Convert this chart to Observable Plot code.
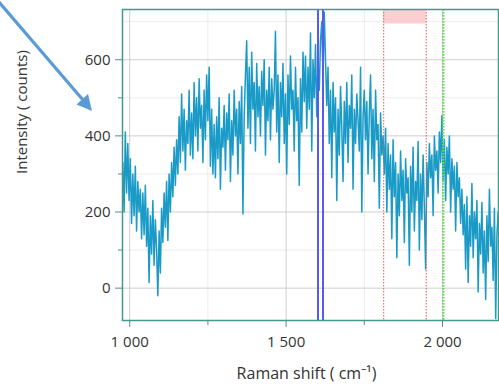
<!DOCTYPE html>
<html>
<head>
<meta charset="utf-8">
<script src="https://cdn.jsdelivr.net/npm/d3@7"></script>
<script src="https://cdn.jsdelivr.net/npm/@observablehq/plot@0.6"></script>
<style>
  html, body { margin: 0; padding: 0; background: #fff; }
  #chart { position: relative; width: 499px; height: 391px; overflow: hidden; font-family: "Open Sans", sans-serif; }
  #pointer { position: absolute; left: 0; top: 0; pointer-events: none; }
</style>
</head>
<body>
<div id="chart"></div>
<script>
// Raman shift (cm⁻¹) of each recorded sample
const shift = [
  978, 982, 986, 990, 994, 998, 1002, 1006, 1010, 1014,
  1018, 1022, 1026, 1030, 1034, 1038, 1042, 1046, 1050, 1054,
  1058, 1062, 1066, 1070, 1074, 1078, 1082, 1086, 1090, 1094,
  1098, 1102, 1106, 1110, 1114, 1118, 1122, 1126, 1130, 1134,
  1138, 1142, 1146, 1150, 1154, 1158, 1162, 1166, 1170, 1174,
  1178, 1182, 1186, 1190, 1194, 1198, 1202, 1206, 1210, 1214,
  1218, 1222, 1226, 1230, 1234, 1238, 1242, 1246, 1250, 1254,
  1258, 1262, 1266, 1270, 1274, 1278, 1282, 1286, 1290, 1294,
  1298, 1302, 1306, 1310, 1314, 1318, 1322, 1326, 1330, 1334,
  1338, 1342, 1346, 1350, 1354, 1358, 1362, 1366, 1370, 1374,
  1378, 1382, 1386, 1390, 1394, 1398, 1402, 1406, 1410, 1414,
  1418, 1422, 1426, 1430, 1434, 1438, 1442, 1446, 1450, 1454,
  1458, 1462, 1466, 1470, 1474, 1478, 1482, 1486, 1490, 1494,
  1498, 1502, 1506, 1510, 1514, 1518, 1522, 1526, 1530, 1534,
  1538, 1542, 1546, 1550, 1554, 1558, 1562, 1566, 1570, 1574,
  1578, 1582, 1586, 1590, 1594, 1598, 1602, 1606, 1610, 1614,
  1618, 1622, 1626, 1630, 1634, 1638, 1642, 1646, 1650, 1654,
  1658, 1662, 1666, 1670, 1674, 1678, 1682, 1686, 1690, 1694,
  1698, 1702, 1706, 1710, 1714, 1718, 1722, 1726, 1730, 1734,
  1738, 1742, 1746, 1750, 1754, 1758, 1762, 1766, 1770, 1774,
  1778, 1782, 1786, 1790, 1794, 1798, 1802, 1806, 1810, 1814,
  1818, 1822, 1826, 1830, 1834, 1838, 1842, 1846, 1850, 1854,
  1858, 1862, 1866, 1870, 1874, 1878, 1882, 1886, 1890, 1894,
  1898, 1902, 1906, 1910, 1914, 1918, 1922, 1926, 1930, 1934,
  1938, 1942, 1946, 1950, 1954, 1958, 1962, 1966, 1970, 1974,
  1978, 1982, 1986, 1990, 1994, 1998, 2002, 2006, 2010, 2014,
  2018, 2022, 2026, 2030, 2034, 2038, 2042, 2046, 2050, 2054,
  2058, 2062, 2066, 2070, 2074, 2078, 2082, 2086, 2090, 2094,
  2098, 2102, 2106, 2110, 2114, 2118, 2122, 2126, 2130, 2134,
  2138, 2142, 2146, 2150, 2154, 2158, 2162, 2166, 2170, 2174,
  2178
];

// Measured intensity (counts) at each shift
const intensity = [
  330, 200, 410, 250, 380, 230, 340, 170, 300, 190,
  320, 150, 280, 200, 260, 130, 250, 140, 270, 110,
  210, 15, 190, 90, 230, 60, 180, 100, -20, 150,
  40, 210, 120, 250, 160, 280, 125, 300, 200, 330,
  240, 370, 270, 390, 300, 450, 330, 510, 360, 470,
  310, 440, 380, 520, 350, 460, 340, 540, 400, 500,
  360, 550, 420, 480, 330, 520, 390, 560, 440, 580,
  320, 470, 300, 430, 290, 450, 340, 500, 260, 420,
  370, 480, 310, 460, 390, 510, 280, 440, 350, 520,
  400, 470, 300, 490, 380, 530, 195, 450, 560, 650,
  420, 580, 380, 620, 470, 540, 360, 590, 450, 530,
  400, 570, 480, 600, 350, 520, 440, 580, 390, 550,
  470, 520, 675, 410, 560, 330, 540, 450, 590, 380,
  510, 300, 560, 430, 610, 470, 520, 360, 580, 440,
  500, 270, 550, 410, 620, 490, 610, 420, 580, 470,
  670, 360, 600, 500, 640, 450, 590, 520, 650, 700,
  560, 725, 600, 480, 580, 380, 520, 290, 540, 410,
  500, 230, 470, 350, 530, 420, 280, 490, 380, 540,
  330, 480, 420, 560, 260, 470, 380, 510, 440, 360,
  580, 200, 450, 520, 390, 490, 300, 460, 560, 340,
  470, 280, 520, 390, 430, 210, 460, 350, 400, 300,
  420, 200, 380, 260, 350, 130, 390, 240, 330, 80,
  300, 190, 360, 230, 310, 120, 340, 250, 290, 60,
  320, 200, 370, 150, 280, 230, 385, 100, 300, 180,
  350, 210, 50, 330, 240, 380, 290, 350, 190, 400,
  310, 360, 250, 410, 330, 453, 280, 390, 230, 370,
  300, 400, 200, 340, 260, 320, 150, 330, 240, 290,
  170, 260, 140, 220, 50, 240, 15, 190, 110, 275,
  80, 200, 130, 230, -10, 170, 90, 225, 40, 150,
  -30, 190, 70, 260, 110, 160, 20, 210, -80, 140,
  200
];

// Axis ticks
const xMajorTicks = [1000, 1500, 2000];
const xMinorTicks = [1250, 1750];
const yMajorTicks = [0, 200, 400, 600];
const yMinorTicks = [100, 300, 500];
const yMinorGrid = [100, 300, 500, 700];

// Marker positions (cm⁻¹)
const blueMarkers = [1602, 1618];
const redMarkers = [1812, 1948];
const greenMarkers = [2001, 2004];
const redWindow = [{from: 1812, to: 1948, low: 694, high: 732}];

const spectrum = shift.map((s, i) => ({shift: s, counts: intensity[i]}));
const thousands = d => d3.format(",")(d).replace(",", " ");

const frameColor = "#43998e";
const tickColor = "#4f8f88";

const chart = Plot.plot({
  width: 499,
  height: 391,
  marginLeft: 122,
  marginRight: 1,
  marginTop: 9,
  marginBottom: 71,
  x: {domain: [977, 2179]},
  y: {domain: [-85, 732]},
  style: {fontFamily: "'Open Sans', sans-serif", fontSize: "15px", color: "#333", background: "white"},
  marks: [
    Plot.ruleX(xMinorTicks, {stroke: "#ececec"}),
    Plot.ruleY(yMinorGrid, {stroke: "#ececec"}),
    Plot.ruleX(xMajorTicks, {stroke: "#cfcfcf"}),
    Plot.ruleY(yMajorTicks, {stroke: "#cfcfcf"}),
    Plot.rect(redWindow, {x1: "from", x2: "to", y1: "low", y2: "high", fill: "#fbcfd1"}),
    Plot.line(spectrum, {x: "shift", y: "counts", stroke: "#1a9ac6", strokeWidth: 1.5}),
    Plot.ruleX(redMarkers, {stroke: "#e05a5a", strokeWidth: 1, strokeDasharray: "1.5,1.5"}),
    Plot.ruleX(greenMarkers, {stroke: "#66dd55", strokeWidth: 1.5, strokeDasharray: "1.5,1.5"}),
    Plot.ruleX(blueMarkers, {stroke: "#5a5af0", strokeWidth: 2}),
    Plot.frame({stroke: frameColor, strokeWidth: 1.5}),
    Plot.axisX(xMajorTicks, {tickSize: 7, tickPadding: 9, tickFormat: thousands, stroke: tickColor, fontSize: 15, label: null}),
    Plot.axisX(xMinorTicks, {tickSize: 5, tickFormat: () => "", stroke: tickColor, label: null}),
    Plot.axisY(yMajorTicks, {tickSize: 7, tickPadding: 5, stroke: tickColor, fontSize: 15, label: null}),
    Plot.axisY(yMinorTicks, {tickSize: 4, tickFormat: () => "", stroke: tickColor, label: null}),
    Plot.text(["Raman shift ( cm⁻¹)"], {frameAnchor: "bottom", dx: -4, dy: 58, fontSize: 16, fill: "#333"}),
    Plot.text(["Intensity ( counts)"], {frameAnchor: "left", rotate: -90, dx: -100, dy: 9, fontSize: 15, fill: "#333"})
  ]
});

const holder = document.getElementById("chart");
holder.appendChild(chart);

// Call-out arrow pointing at the spectrum from the top-left corner
const ns = "http://www.w3.org/2000/svg";
const pointer = document.createElementNS(ns, "svg");
pointer.setAttribute("id", "pointer");
pointer.setAttribute("width", 499);
pointer.setAttribute("height", 391);
const shaft = document.createElementNS(ns, "line");
shaft.setAttribute("x1", -2); shaft.setAttribute("y1", 1);
shaft.setAttribute("x2", 83); shaft.setAttribute("y2", 100);
shaft.setAttribute("stroke", "#5b9bd5");
shaft.setAttribute("stroke-width", 3.2);
const head = document.createElementNS(ns, "polygon");
head.setAttribute("points", "92,111 76.5,104.5 88,94");
head.setAttribute("fill", "#5b9bd5");
pointer.append(shaft, head);
holder.appendChild(pointer);
</script>
</body>
</html>
